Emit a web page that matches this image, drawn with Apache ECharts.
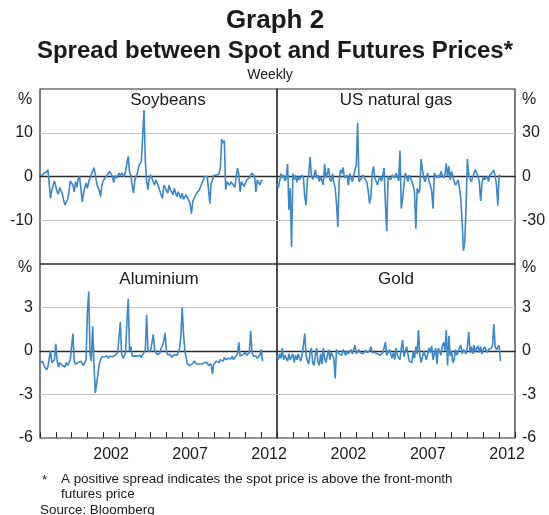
<!DOCTYPE html>
<html><head><meta charset="utf-8">
<script src="https://cdn.jsdelivr.net/npm/echarts@6/dist/echarts.min.js"></script>
<style>html,body{margin:0;padding:0;background:#fff}#c{width:549px;height:515px}</style>
</head><body><div id="c"></div>
<script>
// ---- data (sampled roughly monthly from the weekly series, % spread) ----
const startYear = 1998;
const stepYears = 1 / 12;
const endYear = 2013;
const tickLabels = [2002, 2007, 2012];

const soybeans = [
0.4,0.6,0.3,0.8,0.5,1.0,1.6,1.8,-5,-3,
-2,-1,-0.8,-3.5,-4,-2.5,-2.3,-4,-5.5,-6.5,
-5.8,-5.2,-3.5,-1.0,-0.8,-2,-3.5,-1.2,-2.5,-0.5,
0,-2.5,-5.8,-4,-2.5,-1.5,-2.7,-1.2,-1.5,0.5,
1.2,2,0.5,-1.5,-2.5,-3.2,-4.6,-2,-1,-0.5,
-0.4,0.3,0,1.2,0.8,0,-1.4,0.2,-0.4,-0.3,
0.8,0.1,0.8,0.4,0,1.2,3.0,4.6,1.0,0.3,
-2,-3.8,-1,0,0.8,2.3,3.0,3.5,3.8,15.2,
3.5,-1,-3,-0.5,0.4,0.6,-1.2,-1.9,-0.8,-1.5,
-2.3,-2.5,-4.2,-5,-2,-2.5,-2.7,-3.8,-2,-3,
-3.5,-4.2,-2.7,-3.8,-4.6,-3.5,-3.1,-5,-3.8,-5.2,
-5.4,-4.2,-4.6,-5.5,-6.2,-8.5,-5.8,-5,-4.4,-3.8,
-3.5,-3.1,-2.3,-1.5,-0.8,0,0.4,0,-3,-6.2,
-1.5,-0.8,0.3,0,0.3,0.4,0.6,2,8.5,7.7,
8.2,-3,-1.2,-1.5,-2,-1.2,-1.5,-2,-2.5,0,
1.9,0.5,-3.5,-1.2,-1.5,-2.3,-1.5,-0.8,-0.5,-0.3,
0,0.8,1.2,0,-3.5,-0.8,-0.4,-1.9,-1,-0.8];

const naturalGas = [
-5,-8,-3,2,-1,1,-3,-1,8.5,-23,
-8,-48.5,2,-2,1,-4,0,-2.3,-3.5,1,
-1,-14,-19.6,-2,1,13.4,1,-2,0.5,4.6,
-1,1,-3.5,0,-1,-5.8,8.5,-1,2,5.8,
-2,-3.5,2,-4,-8,-18.5,-34.6,-3.5,4.6,2,
6.2,-1,0,1,-6,2,-1,-3.5,1,4.6,
8,37,-3.5,-2.3,-1,1,0,-2.3,-4,-10,
-18.5,-14,2,7,-1,-3.5,-5.8,-2,0,-3.5,
1,5.8,-19.6,-37.6,0,-1,-2.3,1,1.5,-1,
2.3,0,-3,17.8,-22,-15,-6,2.3,0,-3.5,
1,-1,-3.5,-6,-11,-35.8,-8,-11.5,-9,12,
4.6,-1,-3.5,0,2.3,-3.5,-6,-10,-22,2.3,
3,-1,1,-1,3.5,1,-1,1,9,0,
7,-2.3,3.5,0,-3.5,-6,-5.8,-2.3,-8,-15,
-31,-50.8,-45,-21,12,1,0,-3.5,-2.3,2.3,
4.6,4.6,0,-3.5,-16.8,-5,0,-2.3,-1,0,
-3.5,1,1.5,3,4.6,0,-5.8,-20,1,0];

const aluminium = [
-0.8,-0.9,-0.7,-1.0,-0.9,-1.3,-1.1,-0.5,0,-0.8,
-0.9,-0.6,0.5,-0.7,-1.1,-0.8,-0.9,-1.0,-0.9,-1.1,
-0.8,-1.0,-1.0,-0.6,-0.7,1.2,-0.7,-0.9,-1.0,-0.8,
-0.9,-0.7,-0.6,-1.0,-0.8,-0.6,2.65,4.1,-0.2,-0.7,
1.7,-0.9,-2.9,-2.8,-1.6,-0.9,-0.6,-0.4,-0.3,-0.4,
-0.5,-0.35,-0.5,-0.35,-0.45,-0.4,-0.35,-0.3,-0.2,-0.1,
0,2.0,-0.2,-0.5,-0.35,-0.1,2.0,3.6,0,0.3,
-0.35,-0.45,-0.35,-0.45,-0.35,-0.3,-0.3,-0.45,-0.25,-0.1,
0.1,2.5,0,-0.1,0,0.1,1.15,0.1,-0.1,-0.25,
-0.35,-0.15,0.2,0.35,0.7,1.25,0,-0.25,-0.35,-0.25,
-0.45,-0.35,-0.25,-0.35,-0.3,-0.1,0.2,1.0,3.0,1.2,
0,-0.45,-0.9,-0.8,-1.0,-0.9,-0.85,-0.7,-0.8,-0.9,
-0.8,-0.9,-0.8,-0.9,-1.0,-0.8,-0.9,-0.8,-1.0,-1.1,
-0.9,-1.6,-0.9,-0.8,-0.7,-0.6,-0.8,-0.6,-0.55,-0.7,
-0.45,-0.6,-0.65,-0.5,-0.45,-0.55,-0.35,-0.6,-0.45,-0.35,
-0.2,0.6,-0.35,-0.45,-0.25,-0.35,-0.1,-0.3,-0.25,-0.1,
1.4,-0.1,-0.35,-0.45,-0.35,-0.5,-0.45,-0.3,0.1,-0.7];

const gold = [
-0.3,-0.6,-0.2,-0.5,0.2,-0.6,-0.3,-0.5,-0.7,-0.2,
-0.6,-0.5,-0.2,-0.8,-0.3,-0.6,-0.2,-0.5,-0.7,-0.3,
-0.4,1.2,-0.3,-0.7,-0.9,-0.1,0.2,-0.8,-1.0,-0.3,
0.2,-0.8,-1.0,-0.2,-0.9,0.2,-0.5,-0.8,-0.9,0.1,
-0.6,-0.1,-0.3,-0.5,-1.9,0.1,0.2,-0.2,-0.1,-0.3,
0.1,-0.1,-0.3,0,-0.2,-0.1,0.1,-0.2,-0.1,0.4,
-0.2,-0.2,0.1,-0.1,0,-0.2,-0.1,0.05,-0.1,-0.2,
0,0.3,-0.1,-0.2,-0.1,0,-0.2,-0.1,-0.3,-0.2,
-0.1,0.2,0.6,-0.3,-0.4,0.1,0,-0.5,-0.1,-0.6,
0.2,-0.3,-0.2,-0.6,0.2,0.75,-0.4,-0.5,0.3,0.4,
-0.7,-0.6,-0.8,0,-0.5,0.3,-0.2,1.45,-0.3,-0.8,
-0.4,0,0.1,-0.6,-0.7,0.2,-0.1,0.35,-0.6,-0.7,
0.2,-0.9,0.2,0.3,-0.3,0.35,0.6,0,1.45,-1.0,
1.05,-0.35,0,-0.8,-0.6,0.1,-0.3,-0.4,0.2,0.4,
-0.2,0.1,0,-0.2,0.3,1.3,-0.1,0.3,-0.2,0.4,
-0.1,0.2,0.35,-0.1,0.3,-0.2,0.1,0.3,0.1,-0.1,
0.1,0.05,0.2,0.4,1.85,0.3,0.1,0,0.4,-0.7];

const panelNames = ['Soybeans', 'US natural gas', 'Aluminium', 'Gold'];
const panelValues = [soybeans, naturalGas, aluminium, gold];
const yRanges = [[-20, 20, 10], [-60, 60, 30], [-6, 6, 3], [-6, 6, 3]];

// ---- layout & styling ----
const fontFamily = '"Liberation Sans", Arial, Helvetica, sans-serif';
const ink = '#1a1a1a';
const lineColor = '#3a87c9';
const layout = [
  {left: 40, top: 89, width: 237, height: 175, side: 'left', bottom: false, titleX: 168, titleY: 100},
  {left: 277, top: 89, width: 238, height: 175, side: 'right', bottom: false, titleX: 396, titleY: 100},
  {left: 40, top: 264, width: 237, height: 174, side: 'left', bottom: true, titleX: 159, titleY: 279},
  {left: 277, top: 264, width: 238, height: 174, side: 'right', bottom: true, titleX: 396, titleY: 279}
];

const dates = soybeans.map((_, i) => startYear + i * stepYears);
const pairs = vals => vals.map((v, i) => [dates[i], v]);

const grids = [], xAxes = [], yAxes = [], series = [];
layout.forEach((L, g) => {
  grids.push({left: L.left, top: L.top, width: L.width, height: L.height, show: true,
    borderColor: '#2a2a2a', borderWidth: 1.2, backgroundColor: 'transparent', containLabel: false});
  const [ymin, ymax, yint] = yRanges[g];
  yAxes.push({gridIndex: g, type: 'value', min: ymin, max: ymax, interval: yint, position: L.side,
    axisLine: {show: false}, axisTick: {show: false},
    splitLine: {show: true, lineStyle: {color: ['rgba(0,0,0,0)', '#c2c2c2', '#c2c2c2', '#c2c2c2', 'rgba(0,0,0,0)'], width: 1}},
    axisLabel: {margin: 7, fontSize: 16, color: ink, fontFamily,
      formatter: v => (v < ymax && (L.bottom || v > ymin)) ? String(v) : ''}
  });
  const zeroIdx = xAxes.length;
  xAxes.push({gridIndex: g, type: 'value', min: startYear, max: endYear, position: 'bottom',
    axisLine: {show: true, onZero: true, lineStyle: {color: '#2a2a2a', width: 1.4}},
    axisTick: {show: false}, axisLabel: {show: false}, splitLine: {show: false}});
  if (L.bottom) {
    xAxes.push({gridIndex: g, type: 'value', min: startYear, max: endYear, interval: 1, position: 'bottom',
      axisLine: {show: false, onZero: false},
      axisTick: {show: true, inside: true, length: 6, lineStyle: {color: '#2a2a2a', width: 1}},
      axisLabel: {show: false}, splitLine: {show: false}});
    xAxes.push({gridIndex: g, type: 'value', min: startYear, max: endYear, interval: 0.5, position: 'bottom',
      axisLine: {show: false, onZero: false}, axisTick: {show: false}, splitLine: {show: false},
      axisLabel: {show: true, margin: 9, fontSize: 16, color: ink, fontFamily,
        formatter: v => { const y = Math.floor(v + 1e-6); return (Math.abs(v - y - 0.5) < 1e-6 && tickLabels.includes(y)) ? String(y) : ''; }}});
  }
  series.push({type: 'line', xAxisIndex: zeroIdx, yAxisIndex: g, data: pairs(panelValues[g]),
    showSymbol: false, symbol: 'none', lineStyle: {color: lineColor, width: 1.6}, z: 3, silent: true});
});

function txt(x, y, text, size, opts) {
  return {type: 'text', x, y, silent: true, style: Object.assign({text, fill: ink, fontSize: size, fontFamily,
    textAlign: 'center', textVerticalAlign: 'middle'}, opts || {})};
}

const graphics = [
  txt(275, 21, 'Graph 2', 26, {fontWeight: 'bold'}),
  txt(275, 51, 'Spread between Spot and Futures Prices*', 24, {fontWeight: 'bold'}),
  txt(270, 75, 'Weekly', 14),
  txt(25, 100, '%', 16), txt(25, 268, '%', 16),
  txt(529, 100, '%', 16), txt(529, 268, '%', 16),
  txt(42, 480, '*', 13.4, {textAlign: 'left'}),
  txt(61, 479, 'A positive spread indicates the spot price is above the front-month', 13.4, {textAlign: 'left'}),
  txt(61, 494, 'futures price', 13.4, {textAlign: 'left'}),
  txt(40, 510, 'Source: Bloomberg', 13.4, {textAlign: 'left'})
];
layout.forEach((L, g) => graphics.push(txt(L.titleX, L.titleY, panelNames[g], 17)));

const chart = echarts.init(document.getElementById('c'), null, {renderer: 'canvas'});
chart.setOption({
  animation: false,
  backgroundColor: '#ffffff',
  grid: grids, xAxis: xAxes, yAxis: yAxes, series,
  graphic: graphics
});
</script></body></html>
